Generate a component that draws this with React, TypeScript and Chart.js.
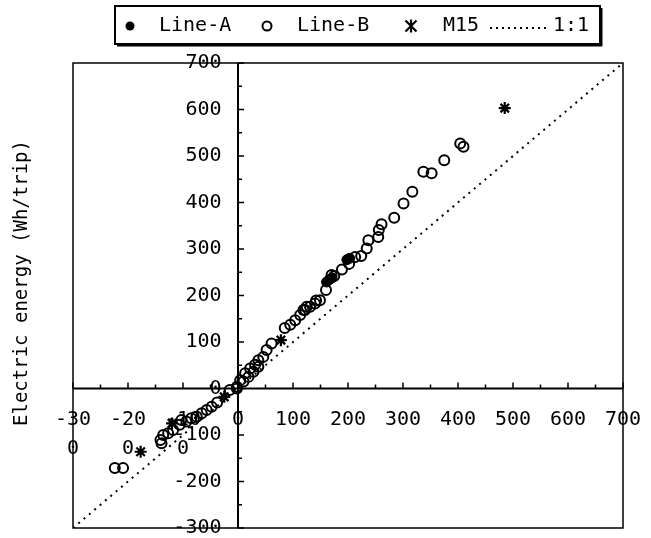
import React, { useEffect, useRef } from "react";
import { Chart, registerables } from "chart.js";

Chart.register(...registerables);

// ---- data ----
const lineAX = [161, 166, 171, 198, 203];
const lineAY = [229, 234, 238, 277, 280];

const lineBX = [404, 410, 375, 337, 352, 317, 301, 284, 261, 256, 255, 237, 234, 224, 213, 202, 189, 175, 170, 160, 149, 142, 140, 131, 125, 122, 119, 113, 104, 95, 85, 61, 52, 46, 37, 31, 22, 13, 4, -2, -15, 10, 19, 28, 37, -2,
  -38, -48, -57, -66, -75, -85, -94, -103, -106, -118, -127, -136, -141, -139, -224, -209];
const lineBY = [527, 520, 491, 466, 463, 423, 398, 367, 353, 341, 326, 319, 301, 285, 283, 268, 256, 242, 244, 212, 190, 189, 183, 176, 176, 169, 169, 158, 147, 137, 130, 97, 83, 68, 61, 51, 43, 33, 18, 4, -3, 15, 25, 36, 47, 0,
  -30, -39, -46, -53, -61, -64, -71, -68, -78, -89, -96, -100, -111, -118, -171, -171];

const m15X = [485, 78, -25, -120, -177];
const m15Y = [603, 104, -18, -75, -136];

const diagX = [-300, 700];
const diagY = [-300, 700];

const xTickValues = [-300, -200, -100, 0, 100, 200, 300, 400, 500, 600, 700];
const xTickLabels = [["-30", "0"], ["-20", "0"], ["-10", "0"], ["0"], ["100"], ["200"], ["300"], ["400"], ["500"], ["600"], ["700"]];
const yTickValues = [-300, -200, -100, 0, 100, 200, 300, 400, 500, 600, 700];
const yTickLabels = ["-300", "-200", "-100", "0", "100", "200", "300", "400", "500", "600", "700"];

const yTitle = "Electric energy (Wh/trip)";
const legendLabels = ["Line-A", "Line-B", "M15", "1:1"];

const toPts = (xs: number[], ys: number[]) => xs.map((x, i) => ({ x, y: ys[i] }));

const MONO_FONT = "'DejaVu Sans Mono', monospace";

const zeroPad = (s: any) => {
  s.paddingLeft = 0;
  s.paddingRight = 0;
  s.paddingTop = 0;
  s.paddingBottom = 0;
};

const decorPlugin = {
  id: "decor",
  beforeDatasetsDraw(chart: any) {
    const { ctx, chartArea: a, scales } = chart;
    const xs = scales.x, ys = scales.y;
    const x0 = xs.getPixelForValue(0);
    const y0 = ys.getPixelForValue(0);
    ctx.save();
    ctx.strokeStyle = "#000";
    ctx.lineWidth = 1.5;
    ctx.strokeRect(a.left, a.top, a.right - a.left, a.bottom - a.top);
    ctx.lineWidth = 2;
    ctx.beginPath();
    ctx.moveTo(a.left, y0); ctx.lineTo(a.right, y0);
    ctx.moveTo(x0, a.top); ctx.lineTo(x0, a.bottom);
    ctx.stroke();
    ctx.lineWidth = 1.5;
    ctx.beginPath();
    for (let v = -300; v <= 700; v += 50) {
      const major = v % 100 === 0;
      const px = xs.getPixelForValue(v);
      ctx.moveTo(px, y0);
      ctx.lineTo(px, y0 - (major ? 6 : 4));
      const py = ys.getPixelForValue(v);
      ctx.moveTo(x0, py);
      ctx.lineTo(x0 + (major ? 6 : 4), py);
    }
    ctx.stroke();
    ctx.restore();
  },
  afterDraw(chart: any) {
    const { ctx } = chart;
    ctx.save();
    // y title
    ctx.fillStyle = "#000";
    ctx.font = `19px ${MONO_FONT}`;
    ctx.textAlign = "center";
    ctx.textBaseline = "middle";
    ctx.translate(22, 283);
    ctx.rotate(-Math.PI / 2);
    ctx.fillText(yTitle, 0, 0);
    ctx.restore();

    // legend
    ctx.save();
    const ly = 26;
    ctx.strokeStyle = "#000";
    ctx.fillStyle = "#fff";
    ctx.fillRect(115, 6, 485, 38);
    ctx.lineWidth = 2;
    ctx.strokeRect(115, 6, 485, 38);
    ctx.fillStyle = "#000";
    ctx.fillRect(117, 44, 485, 2.5);
    ctx.fillRect(600, 8, 2.5, 38);
    ctx.font = `20px ${MONO_FONT}`;
    ctx.textAlign = "left";
    ctx.textBaseline = "middle";
    // Line-A
    ctx.beginPath(); ctx.arc(130, ly, 4.5, 0, Math.PI * 2); ctx.fill();
    ctx.fillText(legendLabels[0], 159, ly);
    // Line-B
    ctx.lineWidth = 2;
    ctx.beginPath(); ctx.arc(267, ly, 4.5, 0, Math.PI * 2); ctx.stroke();
    ctx.fillText(legendLabels[1], 297, ly);
    // M15
    ctx.lineWidth = 2.2;
    ctx.beginPath();
    const r = 5.5, cx = 411;
    ctx.moveTo(cx - r, ly - r); ctx.lineTo(cx + r, ly + r);
    ctx.moveTo(cx + r, ly - r); ctx.lineTo(cx - r, ly + r);
    ctx.moveTo(cx, ly - r * 1.2); ctx.lineTo(cx, ly + r * 1.2);
    ctx.stroke();
    ctx.fillText(legendLabels[2], 443, ly);
    // 1:1
    ctx.lineWidth = 2;
    ctx.setLineDash([2, 4]);
    ctx.beginPath(); ctx.moveTo(490, ly + 2); ctx.lineTo(550, ly + 2); ctx.stroke();
    ctx.setLineDash([]);
    ctx.fillText(legendLabels[3], 553, ly);
    ctx.restore();
  },
};

export default function App() {
  const ref = useRef<HTMLCanvasElement | null>(null);
  useEffect(() => {
    if (!ref.current) return;
    const chart = new Chart(ref.current, {
      type: "scatter",
      data: {
        datasets: [
          {
            label: "Line-A",
            data: toPts(lineAX, lineAY),
            pointStyle: "circle",
            pointRadius: 5,
            backgroundColor: "#000",
            borderColor: "#000",
            borderWidth: 1,
          },
          {
            label: "Line-B",
            data: toPts(lineBX, lineBY),
            pointStyle: "circle",
            pointRadius: 5,
            backgroundColor: "rgba(0,0,0,0)",
            borderColor: "#000",
            borderWidth: 2,
          },
          {
            label: "M15",
            data: toPts(m15X, m15Y),
            pointStyle: "star",
            pointRadius: 6,
            backgroundColor: "#000",
            borderColor: "#000",
            borderWidth: 2.2,
          },
          {
            label: "1:1",
            data: toPts(diagX, diagY),
            showLine: true,
            pointRadius: 0,
            borderColor: "#000",
            borderWidth: 2,
            borderDash: [2, 5],
          } as any,
        ],
      },
      options: {
        animation: false,
        responsive: false,
        devicePixelRatio: 1,
        layout: { padding: { left: 73, right: 28, top: 63, bottom: 10 } },
        plugins: { legend: { display: false }, tooltip: { enabled: false } },
        scales: {
          x: {
            type: "linear",
            min: -300,
            max: 700,
            position: { y: 0 } as any,
            grid: { display: false, drawTicks: false },
            border: { display: false },
            afterBuildTicks: (s: any) => { s.ticks = xTickValues.map((v) => ({ value: v })); },
            afterFit: zeroPad,
            ticks: {
              autoSkip: false,
              maxRotation: 0,
              padding: 17,
              color: "#000",
              font: { family: MONO_FONT, size: 20, lineHeight: 1.45 },
              callback: (v: any) => {
                const i = xTickValues.indexOf(Number(v));
                return i >= 0 ? xTickLabels[i] : "";
              },
            },
          },
          y: {
            type: "linear",
            min: -300,
            max: 700,
            // labels are right-aligned just left of the x=0 axis line
            position: { x: -30 } as any,
            grid: { display: false, drawTicks: false },
            border: { display: false },
            afterBuildTicks: (s: any) => { s.ticks = yTickValues.map((v) => ({ value: v })); },
            afterFit: zeroPad,
            ticks: {
              autoSkip: false,
              padding: 0,
              color: "#000",
              font: { family: MONO_FONT, size: 20, lineHeight: 1 },
              callback: (v: any) => {
                const i = yTickValues.indexOf(Number(v));
                return i >= 0 ? yTickLabels[i] : "";
              },
            },
          },
        },
      },
      plugins: [decorPlugin],
    });
    return () => chart.destroy();
  }, []);
  return (
    <div style={{ position: "fixed", left: 0, top: 0, width: 651, height: 538, background: "#fff" }}>
      <canvas ref={ref} width={651} height={538} style={{ display: "block" }} />
    </div>
  );
}
